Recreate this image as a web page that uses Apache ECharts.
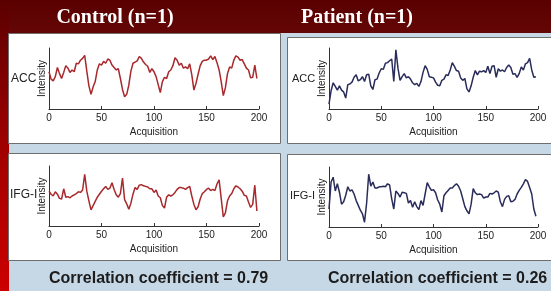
<!DOCTYPE html>
<html><head><meta charset="utf-8">
<script src="https://cdn.jsdelivr.net/npm/echarts@6/dist/echarts.min.js"></script>
<style>html,body{margin:0;padding:0;background:#c6d7e5;overflow:hidden}#c{width:551px;height:291px}</style>
</head><body><div id="c"></div>
<script>
const acquisition = [0,2,4,6,8,10,12,14,16,18,20,22,24,26,28,30,32,34,36,38,40,42,44,46,48,50,52,54,56,58,60,62,64,66,68,70,72,74,76,78,80,82,84,86,88,90,92,94,96,98,100,102,104,106,108,110,112,114,116,118,120,122,124,126,128,130,132,134,136,138,140,142,144,146,148,150,152,154,156,158,160,162,164,166,168,170,172,174,176,178,180,182,184,186,188,190,192,194,196,198];
const controlACC = [61,49,46,53,68,58,50,60,71,67, 60,64,61,75,74,80,83,88,62,38, 24,36,45,64,74,72,78,75,82,80, 72,68,64,66,50,32,20,24,39,62, 75,77,79,86,83,77,73,70,60,66, 61,53,40,27,45,52,50,61,64,71, 84,80,72,75,67,69,66,74,56,31, 42,57,71,78,80,80,82,87,81,86, 76,64,45,22,35,58,69,67,80,87, 85,80,81,74,67,64,51,52,72,50];
const controlIFG = [58,53,50,57,53,46,45,62,48,49, 47,50,52,54,57,56,60,86,58,42, 27,34,41,48,53,58,62,66,61,63, 72,61,52,48,54,80,44,37,28,38, 53,64,61,68,69,67,66,65,62,62, 56,60,50,47,34,30,48,52,50,52, 56,61,64,64,63,61,64,66,50,36, 27,32,45,54,57,61,63,59,61,59, 70,77,46,15,22,42,50,54,62,67, 65,62,58,51,50,40,31,36,68,25];
const patientACC = [8,30,43,37,31,38,31,28,18,40, 41,44,52,56,46,48,53,45,56,57, 38,32,48,49,59,66,65,75,76,79, 82,45,97,67,47,53,58,51,53,49, 43,40,42,37,45,60,71,65,53,52, 51,44,39,38,47,49,56,55,64,76, 70,63,62,51,47,50,33,28,38,52, 63,56,62,61,63,60,70,58,70,71, 52,66,62,64,61,68,72,68,57,58, 52,58,69,64,74,76,83,64,52,53];
const patientIFG = [30,75,83,60,72,58,38,42,53,67, 60,62,55,44,36,28,22,8,40,88, 68,75,65,65,67,67,68,67,72,70, 47,30,60,56,50,58,57,56,40,44, 33,42,34,29,44,36,55,74,67,61, 62,57,45,38,25,52,57,61,65,65, 69,72,68,60,47,34,27,22,38,64, 57,54,55,54,48,50,50,56,55,57, 60,58,42,34,46,51,52,42,43,46, 55,61,66,72,79,76,66,55,30,18];
const xTicks = [0, 50, 100, 150, 200];
const groupTitles = ['Control (n=1)', 'Patient (n=1)'];
const regionLabels = ['ACC', 'IFG-I'];
const correlationTexts = ['Correlation coefficient = 0.79', 'Correlation coefficient = 0.26'];
const xName = 'Acquisition';
const yName = 'Intensity';

const chart = echarts.init(document.getElementById('c'), null, {renderer: 'canvas'});
const SANS = 'Liberation Sans, Arial, sans-serif';
const SERIF = 'Liberation Serif, Times New Roman, serif';

const grids = [
  {left: 49, top: 48, width: 210, height: 61},
  {left: 329, top: 48, width: 209, height: 61},
  {left: 49, top: 166, width: 210, height: 60},
  {left: 329, top: 167, width: 209, height: 60}
];
const seriesVals = [controlACC, patientACC, controlIFG, patientIFG];
const colors = ['#a8282c', '#2a2c5a', '#a8282c', '#2a2c5a'];

const xAxes = grids.map((g, i) => ({
  gridIndex: i, type: 'value', min: xTicks[0], max: xTicks[xTicks.length - 1],
  interval: xTicks[1] - xTicks[0],
  axisLine: {lineStyle: {color: '#333', width: 1}},
  axisTick: {inside: true, length: 3, lineStyle: {color: '#333'}},
  axisLabel: {fontSize: 10, color: '#222', margin: 4, fontFamily: SANS},
  splitLine: {show: false},
  name: xName, nameLocation: 'middle', nameGap: 18,
  nameTextStyle: {fontSize: 10, color: '#222', fontFamily: SANS}
}));
const yAxes = grids.map((g, i) => ({
  gridIndex: i, type: 'value', min: 0, max: 100,
  axisLine: {show: true, lineStyle: {color: '#333', width: 1}},
  axisTick: {show: false}, axisLabel: {show: false}, splitLine: {show: false},
  name: yName, nameLocation: 'middle', nameGap: 2,
  nameTextStyle: {fontSize: 10, color: '#222', fontFamily: SANS}
}));
const series = seriesVals.map((vals, i) => ({
  type: 'line', xAxisIndex: i, yAxisIndex: i, symbol: 'none', animation: false,
  lineStyle: {color: colors[i], width: 1.5},
  data: acquisition.map((a, k) => [a, vals[k]])
}));

const titles = [
  {text: groupTitles[0], left: 115, top: 18, textAlign: 'center', textVerticalAlign: 'middle', padding: 0,
   textStyle: {color: '#fff', fontSize: 20, fontWeight: 'bold', fontFamily: SERIF}},
  {text: groupTitles[1], left: 357, top: 18, textAlign: 'center', textVerticalAlign: 'middle', padding: 0,
   textStyle: {color: '#fff', fontSize: 20, fontWeight: 'bold', fontFamily: SERIF}},
  {text: regionLabels[0], left: 11, top: 79, textAlign: 'left', textVerticalAlign: 'middle', padding: 0,
   textStyle: {color: '#222', fontSize: 12, fontWeight: 'normal', fontFamily: SANS}},
  {text: regionLabels[0], left: 292, top: 79, textAlign: 'left', textVerticalAlign: 'middle', padding: 0,
   textStyle: {color: '#222', fontSize: 11, fontWeight: 'normal', fontFamily: SANS}},
  {text: regionLabels[1], left: 10, top: 195, textAlign: 'left', textVerticalAlign: 'middle', padding: 0,
   textStyle: {color: '#222', fontSize: 12, fontWeight: 'normal', fontFamily: SANS}},
  {text: regionLabels[1], left: 290, top: 196, textAlign: 'left', textVerticalAlign: 'middle', padding: 0,
   textStyle: {color: '#222', fontSize: 11, fontWeight: 'normal', fontFamily: SANS}},
  {text: correlationTexts[0], left: 49, top: 279, textAlign: 'left', textVerticalAlign: 'middle', padding: 0,
   textStyle: {color: '#1c1c1c', fontSize: 16, fontWeight: 'bold', fontFamily: SANS}},
  {text: correlationTexts[1], left: 328, top: 279, textAlign: 'left', textVerticalAlign: 'middle', padding: 0,
   textStyle: {color: '#1c1c1c', fontSize: 16, fontWeight: 'bold', fontFamily: SANS}}
];

const boxes = [
  {x: 8, y: 33, w: 272, h: 110},
  {x: 287, y: 37, w: 270, h: 106},
  {x: 8, y: 153, w: 272, h: 107},
  {x: 287, y: 154, w: 270, h: 106}
];
const graphic = [
  {type: 'rect', z: -10, silent: true, shape: {x: 0, y: 0, width: 551, height: 33},
   style: {fill: new echarts.graphic.LinearGradient(0, 0, 0, 1, [{offset: 0, color: '#5a0000'}, {offset: 1, color: '#640606'}])}},
  {type: 'rect', z: -10, silent: true, shape: {x: 0, y: 0, width: 9, height: 291},
   style: {fill: new echarts.graphic.LinearGradient(0, 0, 0, 1, [{offset: 0, color: '#5a0000'}, {offset: 0.5, color: '#a00000'}, {offset: 1, color: '#cc0000'}])}}
].concat(boxes.map(b => ({
  type: 'rect', z: -5, silent: true, shape: {x: b.x + 0.5, y: b.y + 0.5, width: b.w, height: b.h},
  style: {fill: '#ffffff', stroke: '#6e6e6e', lineWidth: 1}
})));

chart.setOption({
  backgroundColor: '#c6d7e5',
  animation: false,
  title: titles,
  grid: grids,
  xAxis: xAxes,
  yAxis: yAxes,
  series: series,
  graphic: graphic
});
</script></body></html>
